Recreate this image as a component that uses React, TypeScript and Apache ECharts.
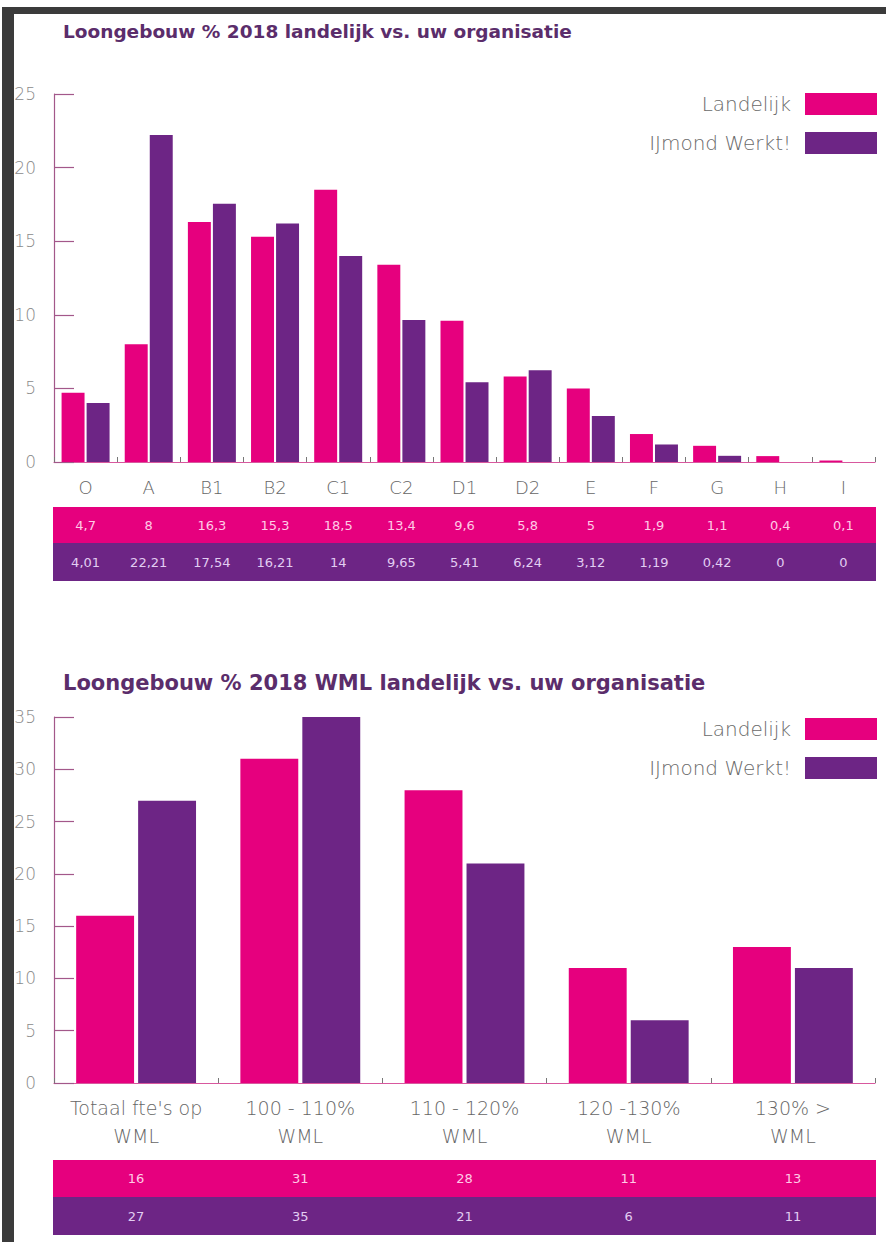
import React, { useEffect, useRef } from "react";
import * as echarts from "echarts";

// Chart 1: Loongebouw % 2018 landelijk vs. uw organisatie
const cats1 = ["O", "A", "B1", "B2", "C1", "C2", "D1", "D2", "E", "F", "G", "H", "I"];
const land1 = [4.7, 8, 16.3, 15.3, 18.5, 13.4, 9.6, 5.8, 5, 1.9, 1.1, 0.4, 0.1];
const ijm1 = [4.01, 22.21, 17.54, 16.21, 14, 9.65, 5.41, 6.24, 3.12, 1.19, 0.42, 0, 0];

// Chart 2: Loongebouw % 2018 WML landelijk vs. uw organisatie
const cats2 = ["Totaal fte's op\nWML", "100 - 110%\nWML", "110 - 120%\nWML", "120 -130%\nWML", "130% >\nWML"];
const land2 = [16, 31, 28, 11, 13];
const ijm2 = [27, 35, 21, 6, 11];

const title1 = "Loongebouw % 2018 landelijk vs. uw organisatie";
const title2 = "Loongebouw % 2018 WML landelijk vs. uw organisatie";
const seriesNames = ["Landelijk", "IJmond Werkt!"];

const PINK = "#e6007e";
const PURPLE = "#6d2585";
const FONT = "'DejaVu Sans', 'Open Sans', sans-serif";
const fmt = (v: number) => String(v).replace(".", ",");

export default function App() {
  const ref = useRef<HTMLDivElement>(null);
  useEffect(() => {
    if (!ref.current) return;
    const chart = echarts.init(ref.current, null, { renderer: "svg" });

    const yAxisBase = (gridIndex: number, max: number) => ({
      type: "value",
      gridIndex,
      min: 0,
      max,
      interval: 5,
      splitLine: { show: false },
      axisLine: { show: true, lineStyle: { color: "#a3588a", width: 1.2 } },
      axisTick: { show: true, inside: true, length: 20, lineStyle: { color: "#a3588a", width: 1.2 } },
      axisLabel: { color: "#8a8a8a", fontSize: 17, fontFamily: FONT, fontWeight: 200, margin: 18 },
    });

    const xCat = (gridIndex: number, data: string[], margin: number, lineHeight: number, fontSize: number) => ({
      type: "category",
      gridIndex,
      data,
      position: "bottom",
      axisLine: { show: true, lineStyle: { color: "#d8589e", width: 1.2 } },
      axisTick: { show: true, inside: true, length: 5, lineStyle: { color: "#777" } },
      axisLabel: {
        color: "#666666",
        fontSize,
        fontFamily: FONT,
        fontWeight: 200,
        margin,
        lineHeight,
        interval: 0,
      },
    });

    const xRow = (gridIndex: number, data: string[], values: number[], offset: number, color: string) => ({
      type: "category",
      gridIndex,
      data,
      position: "bottom",
      offset,
      axisLine: { show: false },
      axisTick: { show: false },
      axisLabel: {
        interval: 0,
        margin: 0,
        verticalAlign: "middle",
        color,
        fontSize: 13,
        fontFamily: FONT,
        fontWeight: 400,
        formatter: (_v: string, i: number) => fmt(values[i]),
      },
    });

    const legendBase = (top: number) => ({
      top,
      right: 9,
      padding: 0,
      orient: "vertical",
      align: "right",
      icon: "rect",
      itemWidth: 72,
      itemHeight: 22,
      itemGap: 17,
      data: seriesNames,
      textStyle: { color: "#6a6a6a", fontSize: 20, fontFamily: FONT, fontWeight: 200, padding: [0, 9, 0, 0] },
      selectedMode: false,
    });

    chart.setOption({
      animation: false,
      backgroundColor: "#ffffff",
      legend: [legendBase(93), legendBase(718)],
      grid: [
        { left: 54, right: 11, top: 94, height: 368 },
        { left: 54, right: 11, top: 717, height: 366 },
      ],
      xAxis: [
        xCat(0, cats1, 15, 20, 18),
        xRow(0, cats1, land1, 63, "#ffcbe6"),
        xRow(0, cats1, ijm1, 100, "#e2cdf2"),
        xCat(1, cats2, 11, 28, 19),
        xRow(1, cats2, land2, 95, "#ffcbe6"),
        xRow(1, cats2, ijm2, 133, "#e2cdf2"),
      ],
      yAxis: [yAxisBase(0, 25), yAxisBase(1, 35)],
      series: [
        { type: "bar", name: seriesNames[0], xAxisIndex: 0, yAxisIndex: 0, data: land1, itemStyle: { color: PINK }, barGap: "9%", barCategoryGap: "24%" },
        { type: "bar", name: seriesNames[1], xAxisIndex: 0, yAxisIndex: 0, data: ijm1, itemStyle: { color: PURPLE } },
        { type: "bar", name: seriesNames[0], xAxisIndex: 3, yAxisIndex: 1, data: land2, itemStyle: { color: PINK }, barGap: "7%", barCategoryGap: "27%" },
        { type: "bar", name: seriesNames[1], xAxisIndex: 3, yAxisIndex: 1, data: ijm2, itemStyle: { color: PURPLE } },
      ],
      graphic: [
        { type: "rect", z: 100, shape: { x: 0, y: 0, width: 886, height: 8 }, style: { fill: "#ffffff" } },
        { type: "rect", z: 100, shape: { x: 2, y: 7, width: 884, height: 7 }, style: { fill: "#3b3b3b" } },
        { type: "rect", z: 100, shape: { x: 2, y: 7, width: 12, height: 1235 }, style: { fill: "#3b3b3b" } },
        { type: "text", left: 63, top: 22, style: { text: title1, fill: "#5b2d6b", fontSize: 18.5, fontWeight: "bold", fontFamily: FONT } },
        { type: "text", left: 63, top: 672, style: { text: title2, fill: "#5b2d6b", fontSize: 21, fontWeight: "bold", fontFamily: FONT } },
        { type: "rect", z: -1, shape: { x: 53, y: 507, width: 823, height: 36 }, style: { fill: PINK } },
        { type: "rect", z: -1, shape: { x: 53, y: 543, width: 823, height: 38 }, style: { fill: PURPLE } },
        { type: "rect", z: -1, shape: { x: 53, y: 1160, width: 823, height: 37 }, style: { fill: PINK } },
        { type: "rect", z: -1, shape: { x: 53, y: 1197, width: 823, height: 38 }, style: { fill: PURPLE } },
      ],
    });
    return () => chart.dispose();
  }, []);
  return <div ref={ref} style={{ position: "absolute", left: 0, top: 0, width: 886, height: 1242 }} />;
}
